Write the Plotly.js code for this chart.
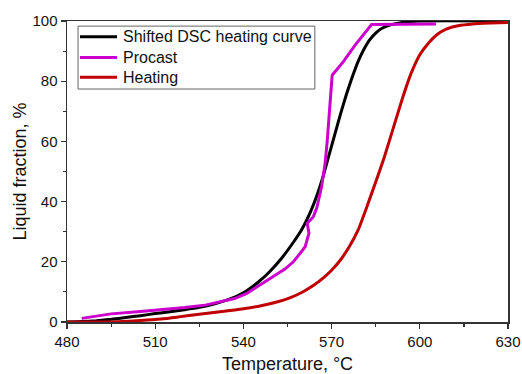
<!DOCTYPE html>
<html>
<head>
<meta charset="utf-8">
<script src="https://cdn.plot.ly/plotly-3.0.1.min.js"></script>
<style>html,body{margin:0;padding:0;background:#fff;}#chart{width:522px;height:374px;}</style>
</head>
<body>
<div id="chart"></div>
<script>
// Shifted DSC heating curve
var dscT = [480, 485, 490, 495, 500, 505, 510, 515, 520, 525, 530, 534, 538, 541, 545, 549, 553, 557, 560, 563, 565, 567, 569, 571, 573, 575, 577, 579, 581, 583, 585, 587, 590, 594, 600, 630];
var dscL = [0, 0.15, 0.45, 0.9, 1.5, 2.1, 2.8, 3.4, 4.1, 4.9, 6, 7.2, 8.7, 10.3, 13.2, 16.8, 21.2, 26.5, 31, 37, 42, 48, 55, 62, 69, 75.5, 81.3, 86.5, 90.6, 93.8, 96, 97.5, 98.7, 99.5, 100, 100];

// Procast
var procT = [485, 495, 505, 512, 520, 527, 533, 537, 541, 545, 550, 554, 557, 559.3, 561, 562.3, 561.7, 563.8, 565, 566.6, 567.8, 568.5, 570.2, 574, 578, 583.6, 605.5];
var procL = [1.2, 2.7, 3.5, 4, 4.8, 5.6, 6.8, 7.8, 9.4, 12, 15, 17.5, 20, 22.8, 25, 29.5, 32.8, 35, 38, 45, 52.7, 60, 82, 86.5, 92, 98.8, 99];

// Heating
var heatT = [480, 490, 497, 505, 512, 518, 525, 532, 540, 546, 552, 556, 560, 564, 567, 570, 573, 576, 579, 582, 585, 588, 591, 594, 597, 600, 603, 606, 609, 613, 618, 624, 630];
var heatL = [0, 0, 0.1, 0.5, 1.0, 1.7, 2.6, 3.4, 4.4, 5.4, 6.8, 8.1, 9.9, 12.3, 14.5, 17.2, 20.6, 25, 30.5, 38.3, 46.5, 55, 64.5, 74, 82.5, 88.8, 92.7, 95.6, 97.3, 98.4, 99, 99.3, 99.5];

var names = ["Shifted DSC heating curve", "Procast", "Heating"];
var colors = ["#000000", "#cc00cc", "#c00000"];

var font = "Arial, 'Liberation Sans', sans-serif";

var traces = [
  {x: dscT, y: dscL, name: names[0], mode: "lines", line: {color: colors[0], width: 3, shape: "spline", smoothing: 0.5}},
  {x: procT, y: procL, name: names[1], mode: "lines", line: {color: colors[1], width: 3}},
  {x: heatT, y: heatL, name: names[2], mode: "lines", line: {color: colors[2], width: 3, shape: "spline", smoothing: 0.5}}
];

// Legend drawn as a boxed key in the top-left corner of the plot
var legX0 = 0.025, legX1 = 0.562, legY0 = 0.774, legY1 = 0.983;
var rowY = [0.948, 0.879, 0.813];
var shapes = [{type: "rect", xref: "paper", yref: "paper", x0: legX0, x1: legX1, y0: legY0, y1: legY1,
  line: {color: "#666", width: 1}, fillcolor: "#fff", layer: "above"}];
var annotations = [];
names.forEach(function (n, i) {
  shapes.push({type: "line", xref: "paper", yref: "paper", x0: 0.0295, x1: 0.1134, y0: rowY[i], y1: rowY[i],
    line: {color: colors[i], width: 3}, layer: "above"});
  annotations.push({xref: "paper", yref: "paper", x: 0.1224, y: rowY[i], xanchor: "left", yanchor: "middle",
    text: n, showarrow: false, font: {family: font, size: 16, color: "#111"}});
});

var axisCommon = {
  showgrid: false, zeroline: false,
  showline: true, linecolor: "#333", linewidth: 1.5, mirror: true,
  ticks: "outside", ticklen: 5, tickwidth: 1.2, tickcolor: "#333",
  tickfont: {family: font, size: 15, color: "#111"}
};

var layout = {
  width: 522, height: 374,
  margin: {l: 67, r: 14, t: 21, b: 52},
  paper_bgcolor: "#fff", plot_bgcolor: "#fff",
  font: {family: font, color: "#111"},
  showlegend: false,
  shapes: shapes,
  annotations: annotations,
  xaxis: Object.assign({}, axisCommon, {
    range: [480, 630], dtick: 30, tick0: 480,
    minor: {dtick: 15, ticks: "outside", ticklen: 3, tickcolor: "#333"},
    title: {text: "Temperature, °C", font: {family: font, size: 18, color: "#111"}, standoff: 12}
  }),
  yaxis: Object.assign({}, axisCommon, {
    range: [0, 100], dtick: 20, tick0: 0,
    minor: {dtick: 10, ticks: "outside", ticklen: 3, tickcolor: "#333"},
    title: {text: "Liquid fraction, %", font: {family: font, size: 18, color: "#111"}, standoff: 1}
  })
};

Plotly.newPlot("chart", traces, layout, {staticPlot: true, displayModeBar: false});
</script>
</body>
</html>
